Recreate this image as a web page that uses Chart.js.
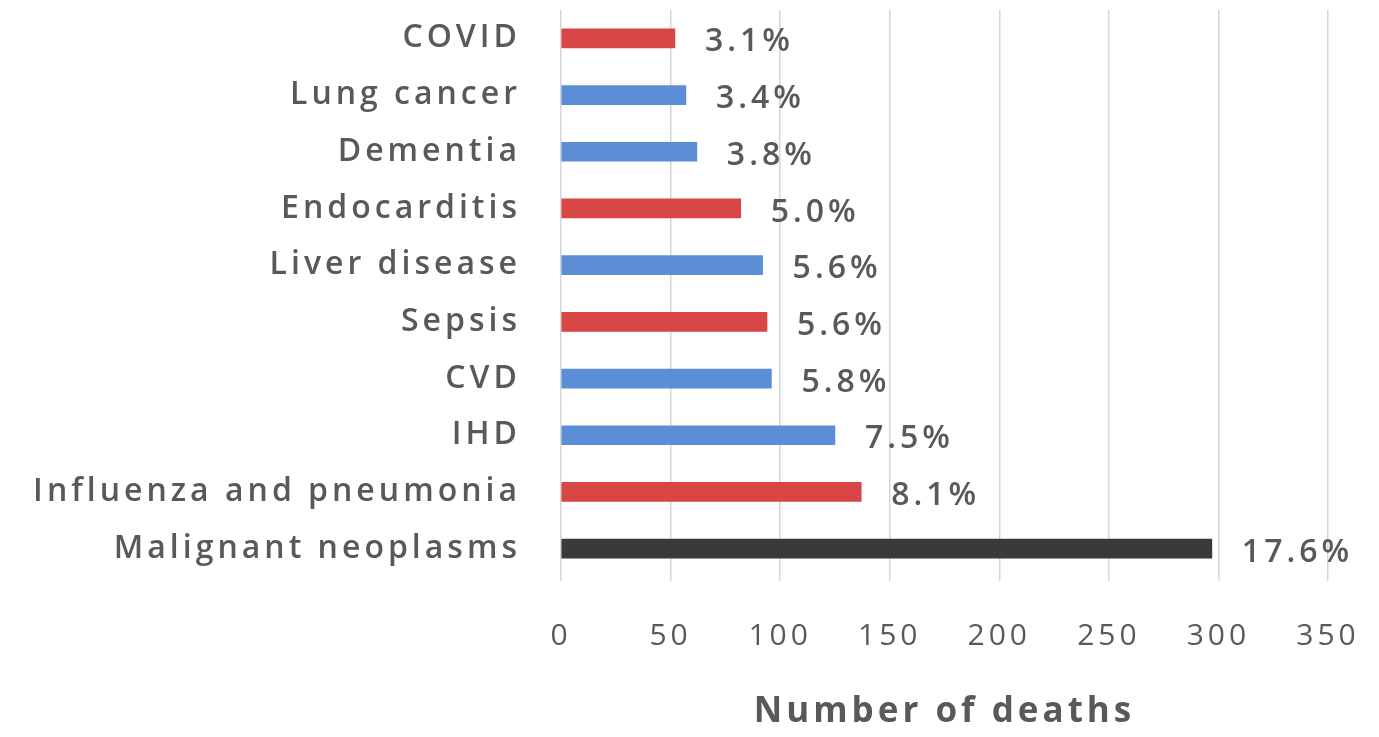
<!DOCTYPE html>
<html>
<head>
<meta charset="utf-8">
<script src="https://cdn.jsdelivr.net/npm/chart.js@4/dist/chart.umd.min.js"></script>
<style>
  html, body { margin: 0; padding: 0; background: #ffffff; }
  #wrap { width: 1379px; height: 737px; }
</style>
</head>
<body>
<div id="wrap"><canvas id="c" width="1379" height="737"></canvas></div>
<script>
const categories = ['COVID', 'Lung cancer', 'Dementia', 'Endocarditis', 'Liver disease', 'Sepsis', 'CVD', 'IHD', 'Influenza and pneumonia', 'Malignant neoplasms'];
const deaths = [52, 57, 62, 82, 92, 94, 96, 125, 137, 297];
const percentLabels = ['3.1%', '3.4%', '3.8%', '5.0%', '5.6%', '5.6%', '5.8%', '7.5%', '8.1%', '17.6%'];
const barColors = ['#d84545', '#5b8ed7', '#5b8ed7', '#d84545', '#5b8ed7', '#d84545', '#5b8ed7', '#5b8ed7', '#d84545', '#3a3a3a'];
const xTicks = [0, 50, 100, 150, 200, 250, 300, 350];
const xTitle = 'Number of deaths';

Chart.defaults.font.family = "'Open Sans', 'DejaVu Sans', sans-serif";

const spacingPlugin = {
  id: 'spacing',
  beforeDraw(chart) { chart.ctx.letterSpacing = '4px'; }
};

const valueLabels = {
  id: 'valueLabels',
  afterDatasetsDraw(chart) {
    const ctx = chart.ctx;
    const meta = chart.getDatasetMeta(0);
    ctx.save();
    ctx.font = "600 32px 'Open Sans', 'DejaVu Sans', sans-serif";
    ctx.fillStyle = '#595959';
    ctx.textAlign = 'left';
    ctx.textBaseline = 'middle';
    meta.data.forEach((bar, i) => {
      ctx.fillText(percentLabels[i], bar.x + 30, bar.y + 4);
    });
    ctx.restore();
  }
};

function clearPadding(s) {
  s.paddingLeft = 0; s.paddingRight = 0; s.paddingTop = 0; s.paddingBottom = 0;
}

new Chart(document.getElementById('c'), {
  type: 'bar',
  data: {
    labels: categories,
    datasets: [{
      data: deaths,
      backgroundColor: barColors,
      borderWidth: 0,
      barThickness: 19
    }]
  },
  options: {
    indexAxis: 'y',
    responsive: false,
    animation: false,
    layout: { padding: { top: 10, right: 51, bottom: 0, left: 0 } },
    plugins: { legend: { display: false }, tooltip: { enabled: false } },
    scales: {
      x: {
        min: 0,
        max: 350,
        afterBuildTicks(s) { s.ticks = xTicks.map(v => ({ value: v })); },
        ticks: { color: '#595959', font: { size: 30 }, padding: 37 },
        grid: { color: '#d6d6d6', lineWidth: 1.5, drawTicks: true, tickLength: 4 },
        border: { display: false },
        title: {
          display: true,
          text: xTitle,
          color: '#595959',
          font: { size: 35, weight: 'bold' },
          padding: { top: 0, bottom: 4 }
        },
        afterFit(s) { s.height = 160; clearPadding(s); }
      },
      y: {
        grid: { display: false, drawTicks: false },
        border: { display: false },
        ticks: { color: '#595959', font: { size: 32, weight: '600' }, padding: 40 },
        afterFit(s) { s.width = 561; clearPadding(s); }
      }
    }
  },
  plugins: [spacingPlugin, valueLabels]
});
</script>
</body>
</html>
